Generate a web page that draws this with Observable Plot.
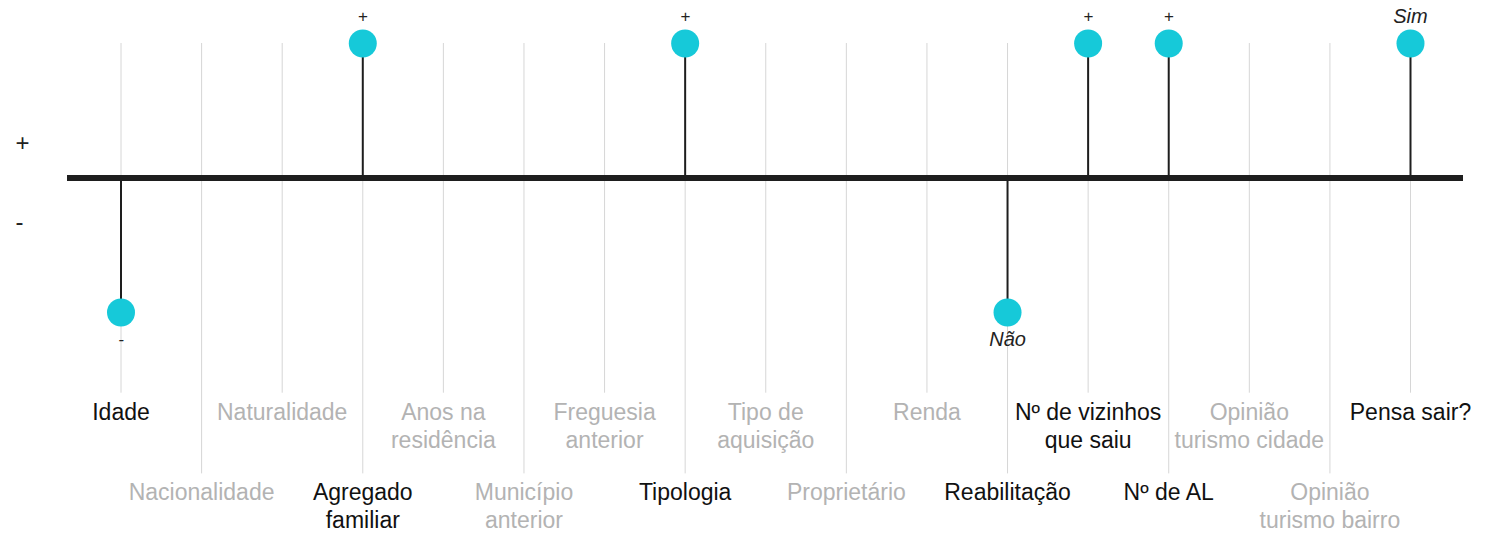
<!DOCTYPE html>
<html>
<head>
<meta charset="utf-8">
<script src="https://cdn.jsdelivr.net/npm/d3@7"></script>
<script src="https://cdn.jsdelivr.net/npm/@observablehq/plot@0.6"></script>
<style>
  html, body { margin: 0; padding: 0; background: #fff; }
  svg { display: block; }
</style>
</head>
<body>
<div id="chart"></div>
<script>
// Categories (x order), with line breaks as shown in the labels
const categories = [
  "Idade", "Nacionalidade", "Naturalidade", "Agregado\nfamiliar",
  "Anos na\nresidência", "Município\nanterior", "Freguesia\nanterior", "Tipologia",
  "Tipo de\naquisição", "Proprietário", "Renda", "Reabilitação",
  "Nº de vizinhos\nque saiu", "Nº de AL", "Opinião\nturismo cidade", "Opinião\nturismo bairro",
  "Pensa sair?"
];
// Effect direction: +1 positive, -1 negative, 0 not significant
const values = [-1, 0, 0, 1, 0, 0, 0, 1, 0, 0, 0, -1, 1, 1, 0, 0, 1];
// Annotation next to each dot
const dotLabels = ["-", "", "", "+", "", "", "", "+", "", "", "", "Não", "+", "+", "", "", "Sim"];
// Side sign labels
const sideLabels = ["+", "-"];
const sideValues = [0.26, -0.33];

const rows = categories.map((c, i) => ({
  cat: c, v: values[i], note: dotLabels[i], row: i % 2, active: values[i] !== 0
}));
const active = rows.filter(d => d.active);
const sides = sideLabels.map((s, i) => ({ s, v: sideValues[i] }));

const DARK = "#111";
const GRAY = "#b3b3b3";
const CYAN = "#16c9d9";

const noteMark = (filter, dy) => Plot.text(active.filter(filter), {
  x: "cat", y: "v", text: "note", dy,
  fontSize: d => d.note.length === 1 ? 17 : 20,
  fontStyle: "italic", fill: "#222"
});

const chart = Plot.plot({
  width: 1503,
  height: 536,
  marginTop: 0, marginBottom: 0, marginLeft: 67, marginRight: 40,
  style: { fontFamily: "'Liberation Sans', Arial, Helvetica, sans-serif", background: "#fff" },
  x: { type: "point", domain: categories, range: [120.5, 1410], padding: 0, round: false, axis: null },
  y: { domain: [-1, 1], range: [312, 43], axis: null },
  marks: [
    // vertical guide lines
    Plot.ruleX(rows, { x: "cat", y1: 1, y2: d => d.row === 0 ? -1.6 : -2.2, stroke: "#d6d6d6", strokeWidth: 1 }),
    // stems
    Plot.ruleX(active, { x: "cat", y1: 0, y2: "v", stroke: "#1e1e1e", strokeWidth: 2 }),
    // baseline
    Plot.ruleY([0], { stroke: "#1e1e1e", strokeWidth: 6 }),
    // dots
    Plot.dot(active, { x: "cat", y: "v", r: 14, fill: CYAN, stroke: null }),
    // dot annotations
    noteMark(d => d.v > 0, -27),
    noteMark(d => d.v < 0, 27),
    // side signs
    Plot.text(sides, { y: "v", text: "s", frameAnchor: "left", dx: -52, fontSize: 24, fill: "#222" }),
    // category labels: top row
    Plot.text(rows.filter(d => d.row === 0), {
      x: "cat", text: "cat", frameAnchor: "top", lineAnchor: "top", dy: 400,
      fontSize: 23, lineHeight: 1.22, fill: d => d.active ? DARK : GRAY
    }),
    // category labels: bottom row
    Plot.text(rows.filter(d => d.row === 1), {
      x: "cat", text: "cat", frameAnchor: "top", lineAnchor: "top", dy: 480,
      fontSize: 23, lineHeight: 1.22, fill: d => d.active ? DARK : GRAY
    })
  ]
});
document.getElementById("chart").append(chart);
</script>
</body>
</html>
